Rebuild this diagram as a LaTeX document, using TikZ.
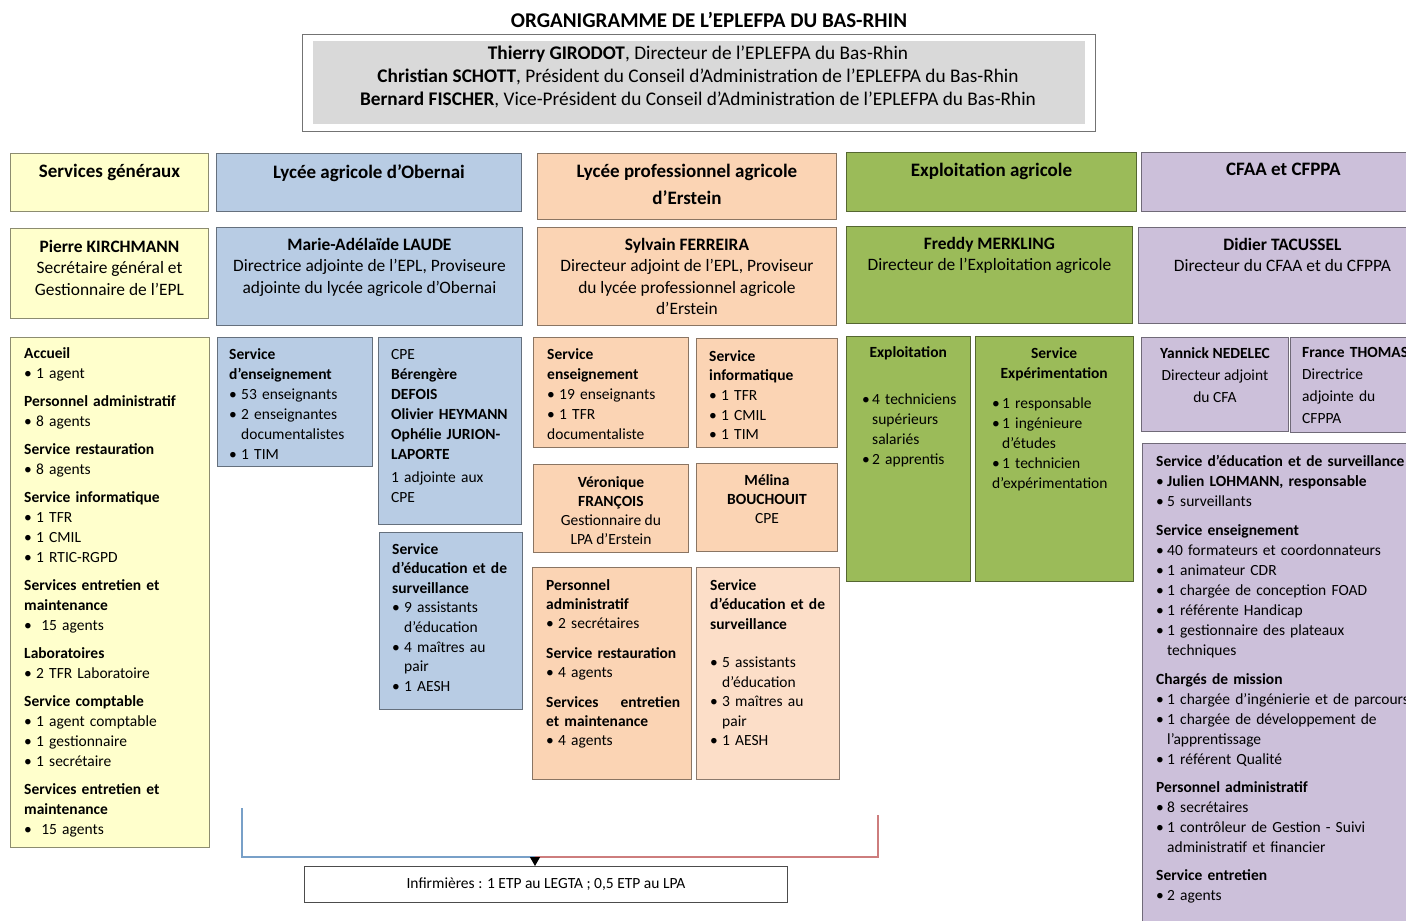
\documentclass[tikz,border=0pt]{standalone}
\usepackage{fontspec}
\setmainfont{Carlito}
\usetikzlibrary{arrows.meta}
\setlength{\parindent}{0pt}
\hyphenpenalty=10000
\definecolor{ylw}{RGB}{255,255,204}
\definecolor{blu}{RGB}{184,204,228}
\definecolor{pch}{RGB}{251,212,180}
\definecolor{pchl}{RGB}{252,222,200}
\definecolor{grn}{RGB}{155,187,89}
\definecolor{lav}{RGB}{204,192,218}
\definecolor{gry}{RGB}{217,217,217}
\definecolor{lnblue}{RGB}{120,160,200}
\definecolor{lnred}{RGB}{205,125,125}
\newcommand{\lstf}{\fontsize{15.5}{20}\selectfont}
\newcommand{\nam}{\fontsize{17.4}{21.5}\selectfont}
\newcommand{\hdr}{\fontsize{19}{27}\selectfont}
\newcommand{\bul}[1][12pt]{\par\hangindent=#1\hangafter=1\noindent\makebox[#1][l]{•}}
\newcommand{\hd}[2][8pt]{\par\vspace{#1}\noindent\textbf{#2}}
\begin{document}
\begin{tikzpicture}[x=1pt,y=-1pt,
    box/.style={draw=#1!55!black, fill=#1, anchor=north west, inner sep=0pt, line width=.9pt},
    txt/.style={inner sep=0pt, anchor=north west, align=left, text width=#1, font=\lstf},
    ctr/.style={inner sep=0pt, anchor=north, align=center, font=\lstf}]
    \clip (0,0) rectangle (1406,921);
    \fill[white] (0,0) rectangle (1406,921);
    \node[font=\fontsize{21}{25}\selectfont\bfseries, inner sep=0pt] (title) at (709,20) {ORGANIGRAMME DE L’EPLEFPA DU BAS-RHIN};
    \node[draw=black!55, line width=.9pt, minimum width=793, minimum height=97, anchor=north west, inner sep=0pt] (dir) at (302,34) {};
    \node[fill=gry, minimum width=772, minimum height=83, anchor=north west, inner sep=0pt] (dirIn) at (313,41) {};
    \node[ctr, font=\fontsize{19.3}{23}\selectfont] (dirT) at (698,46) {\textbf{Thierry GIRODOT}, Directeur de l’EPLEFPA du Bas-Rhin\\ \textbf{Christian SCHOTT}, Président du Conseil d’Administration de l’EPLEFPA du Bas-Rhin\\ \textbf{Bernard FISCHER}, Vice-Président du Conseil d’Administration de l’EPLEFPA du Bas-Rhin};
    \foreach \nm/\col/\x/\y/\w/\h/\t in {sgH/ylw/10/153/198/58/{Services généraux}, loH/blu/216/153/305/58/{Lycée agricole d’Obernai}, leH/pch/537/153/299/66/{Lycée professionnel agricole\\d’Erstein}, eaH/grn/846/152/290/59/{Exploitation agricole}, cfH/lav/1141/152/284/59/{CFAA et CFPPA}}{
        \node[box=\col, minimum width=\w, minimum height=\h] (\nm) at (\x,\y) {};
        \node[ctr, font=\hdr\bfseries] (\nm T) at ([yshift=-11pt]\nm.north) {\t};
    }
    \foreach \nm/\col/\x/\y/\w/\h/\dy/\t in {pkN/ylw/10/228/198/90/12/{\textbf{Pierre KIRCHMANN}\\Secrétaire général et\\Gestionnaire de l’EPL}, mlN/blu/216/227/306/98/11/{\textbf{Marie-Adélaïde LAUDE}\\Directrice adjointe de l’EPL, Proviseure\\adjointe du lycée agricole d’Obernai}, sfN/pch/537/227/299/98/11/{\textbf{Sylvain FERREIRA}\\Directeur adjoint de l’EPL, Proviseur\\du lycée professionnel agricole\\d’Erstein}, fmN/grn/846/226/286/97/11/{\textbf{Freddy MERKLING}\\Directeur de l’Exploitation agricole}, dtN/lav/1138/227/288/96/11/{\textbf{Didier TACUSSEL}\\Directeur du CFAA et du CFPPA}}{
        \node[box=\col, minimum width=\w, minimum height=\h] (\nm) at (\x,\y) {};
        \node[ctr, font=\nam] (\nm T) at ([yshift=-\dy pt]\nm.north) {\t};
    }
    \node[box=ylw, minimum width=199, minimum height=510] (sgL) at (10,337) {};
    \node[txt=180] (sgLT) at ([shift={(14,10)}]sgL.north west) {\textbf{Accueil}\bul 1 agent\hd{Personnel administratif}\bul 8 agents\hd{Service restauration}\bul 8 agents\hd{Service informatique}\bul 1 TFR\bul 1 CMIL\bul 1 RTIC-RGPD\hd{Services entretien et\newline maintenance}\bul\ 15 agents\hd{Laboratoires}\bul 2 TFR Laboratoire\hd{Service comptable}\bul 1 agent comptable\bul 1 gestionnaire\bul 1 secrétaire\hd{Services entretien et\newline maintenance}\bul\ 15 agents};
    \node[box=blu, minimum width=155, minimum height=129] (loE) at (217,337) {};
    \node[txt=140] (loET) at ([shift={(12,11)}]loE.north west) {\textbf{Service\newline d’enseignement}\bul 53 enseignants\bul 2 enseignantes\newline documentalistes\bul 1 TIM};
    \node[box=blu, minimum width=143, minimum height=187] (loC) at (378,337) {};
    \node[txt=128] (loCT) at ([shift={(13,12)}]loC.north west) {CPE\newline \textbf{Bérengère\newline DEFOIS\newline Olivier HEYMANN\newline Ophélie JURION-\newline LAPORTE}\par\vspace{3pt}1 adjointe aux\newline CPE};
    \node[box=blu, minimum width=143, minimum height=177] (loS) at (379,532) {};
    \node[txt=128, font=\fontsize{15.5}{19.6}\selectfont] (loST) at ([shift={(13,11)}]loS.north west) {\textbf{Service\newline d’éducation et de\newline surveillance}\bul 9 assistants\newline d’éducation\bul 4 maîtres au\newline pair\bul 1 AESH};
    \node[box=pch, minimum width=155, minimum height=110] (leE) at (533,337) {};
    \node[txt=140] (leET) at ([shift={(14,11)}]leE.north west) {\textbf{Service\newline enseignement}\bul 19 enseignants\bul 1 TFR\newline documentaliste};
    \node[box=pch, minimum width=141, minimum height=109] (leI) at (696,338) {};
    \node[txt=126, font=\fontsize{15.5}{19.7}\selectfont] (leIT) at ([shift={(13,12)}]leI.north west) {\textbf{Service\newline informatique}\bul 1 TFR\bul 1 CMIL\bul 1 TIM};
    \node[box=pch, minimum width=155, minimum height=88] (leG) at (533,464) {};
    \node[ctr, font=\fontsize{15.5}{19.2}\selectfont] (leGT) at ([yshift=-12pt]leG.north) {\textbf{Véronique}\\\textbf{FRANÇOIS}\\Gestionnaire du\\LPA d’Erstein};
    \node[box=pch, minimum width=141, minimum height=88] (leC) at (696,463) {};
    \node[ctr, font=\fontsize{15.5}{19.2}\selectfont] (leCT) at ([yshift=-11pt]leC.north) {\textbf{Mélina}\\\textbf{BOUCHOUIT}\\CPE};
    \node[box=pch, minimum width=159, minimum height=212] (leP) at (532,567) {};
    \node[txt=134, font=\fontsize{15.5}{19.4}\selectfont] (lePT) at ([shift={(14,12)}]leP.north west) {\textbf{Personnel\newline administratif}\bul 2 secrétaires\hd[10pt]{Service restauration}\bul 4 agents\hd[10pt]{Services\hfill entretien\newline et maintenance}\bul 4 agents};
    \node[box=pchl, minimum width=143, minimum height=212] (leS) at (696,567) {};
    \node[txt=128, font=\fontsize{15.5}{19.5}\selectfont] (leST) at ([shift={(14,12)}]leS.north west) {\textbf{Service\newline d’éducation et de\newline surveillance}\par\vspace{19pt}\bul 5 assistants\newline d’éducation\bul 3 maîtres au\newline pair\bul 1 AESH};
    \node[box=grn, minimum width=124, minimum height=245] (eaX) at (846,336) {};
    \node[txt=106] (eaXT) at ([shift={(16,10)}]eaX.north west) {\makebox[92pt]{\textbf{Exploitation}}\par\vspace{27pt}\bul[10pt]4 techniciens\newline supérieurs\newline salariés\bul[10pt]2 apprentis};
    \node[box=grn, minimum width=158, minimum height=245] (eaE) at (975,336) {};
    \node[txt=132] (eaET) at ([shift={(17,11)}]eaE.north west) {\makebox[124pt]{\textbf{Service}}\newline\makebox[124pt]{\textbf{Expérimentation}}\par\vspace{10pt}\bul[10pt]1 responsable\bul[10pt]1 ingénieure\newline d’études\bul[10pt]1 technicien\newline d’expérimentation};
    \node[box=lav, minimum width=147, minimum height=94] (cfY) at (1141,337) {};
    \node[ctr, font=\fontsize{15.5}{22}\selectfont] (cfYT) at ([yshift=-10pt]cfY.north) {\textbf{Yannick NEDELEC}\\Directeur adjoint\\du CFA};
    \node[box=lav, minimum width=130, minimum height=95] (cfT) at (1290,337) {};
    \node[txt=125, font=\fontsize{15.5}{22}\selectfont] (cfTT) at ([shift={(12,10)}]cfT.north west) {\textbf{France THOMAS}\newline Directrice\newline adjointe du\newline CFPPA};
    \node[box=lav, minimum width=280, minimum height=500] (cfB) at (1142,443) {};
    \node[txt=275] (cfBT) at ([shift={(14,12)}]cfB.north west) {\textbf{Service d’éducation et de surveillance}\bul[11pt]\textbf{Julien LOHMANN, responsable}\bul[11pt]5 surveillants\hd[9pt]{Service enseignement}\bul[11pt]40 formateurs et coordonnateurs\bul[11pt]1 animateur CDR\bul[11pt]1 chargée de conception FOAD\bul[11pt]1 référente Handicap\bul[11pt]1 gestionnaire des plateaux\newline techniques\hd[9pt]{Chargés de mission}\bul[11pt]1 chargée d’ingénierie et de parcours\bul[11pt]1 chargée de développement de\newline l’apprentissage\bul[11pt]1 référent Qualité\hd[8pt]{Personnel administratif}\bul[11pt]8 secrétaires\bul[11pt]1 contrôleur de Gestion - Suivi\newline administratif et financier\hd[8pt]{Service entretien}\bul[11pt]2 agents};
    \node[draw=black!70, line width=.9pt, minimum width=483, minimum height=36, anchor=north west, inner sep=0pt, font=\fontsize{15.5}{18}\selectfont] (inf) at (304,866) {Infirmières : 1 ETP au LEGTA ; 0,5 ETP au LPA};
    \coordinate (blS) at (242,808);
    \coordinate (rdS) at (878,815);
    \coordinate (jn) at (535,857);
    \draw[lnblue, line width=1.3pt] (blS) |- (jn);
    \draw[lnred, line width=1.3pt] (rdS) |- (jn);
    \draw[-{Triangle[width=10pt,length=9pt]}, line width=1pt] (jn) -- (jn |- inf.north);
\end{tikzpicture}
\end{document}
